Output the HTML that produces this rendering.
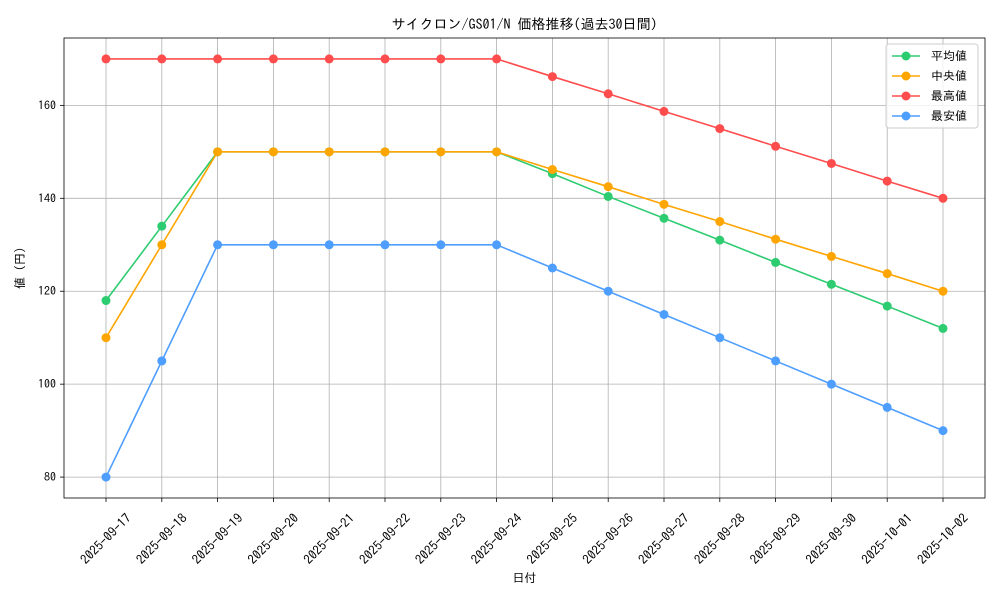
<!DOCTYPE html>
<html><head><meta charset="utf-8"><style>
body{margin:0;background:#fff}
svg text{font-family:"IPAGothic","Liberation Sans","Noto Sans CJK JP",sans-serif;fill:#000}
</style></head><body>
<svg id="chart" width="1000" height="600" xmlns="http://www.w3.org/2000/svg"></svg>
<script>
const categories=["2025-09-17","2025-09-18","2025-09-19","2025-09-20","2025-09-21","2025-09-22","2025-09-23","2025-09-24","2025-09-25","2025-09-26","2025-09-27","2025-09-28","2025-09-29","2025-09-30","2025-10-01","2025-10-02"];
const avgValues=[118,134,150,150,150,150,150,150,145.3,140.4,135.7,131,126.2,121.5,116.8,112];
const medValues=[110,130,150,150,150,150,150,150,146.2,142.5,138.7,135,131.2,127.5,123.8,120];
const maxValues=[170,170,170,170,170,170,170,170,166.2,162.5,158.7,155,151.2,147.5,143.7,140];
const minValues=[80,105,130,130,130,130,130,130,125,120,115,110,105,100,95,90];
const yTicks=[80,100,120,140,160];
const seriesNames=["平均値","中央値","最高値","最安値"];
const seriesColors=["#2ecc71","#ffa500","#ff4d4d","#4d9eff"];
const seriesData=[avgValues,medValues,maxValues,minValues];

const svg=document.getElementById('chart');
const NS="http://www.w3.org/2000/svg";
const L=64,R=985,T=38,B=498;
const yMin=75.5,yMax=174.5;
const x=i=>106+(943-106)*i/(categories.length-1);
const y=v=>B-(v-yMin)/(yMax-yMin)*(B-T);
function mk(t,a,p){const e=document.createElementNS(NS,t);for(const k in a)e.setAttribute(k,a[k]);(p||svg).appendChild(e);return e;}

categories.forEach((c,i)=>{
  const g=mk('line',{x1:x(i),x2:x(i),y1:T,y2:B,stroke:'#b0b0b0','stroke-width':0.8});
  
  
  mk('line',{x1:x(i),x2:x(i),y1:B,y2:B+4,stroke:'#000','stroke-width':0.8});
  const ax=x(i)+26, ay=B+21;
  const t=mk('text',{x:ax,y:ay,'font-size':13,'text-anchor':'end',transform:`rotate(-45 ${ax} ${ay})`});
  t.textContent=c;
  
  
});
yTicks.forEach(v=>{
  const g=mk('line',{x1:L,x2:R,y1:y(v),y2:y(v),stroke:'#b0b0b0','stroke-width':0.8});
  
  
  mk('line',{x1:L-4,x2:L,y1:y(v),y2:y(v),stroke:'#000','stroke-width':0.8});
  const t=mk('text',{x:L-8,y:y(v)+4,'font-size':12,'text-anchor':'end'});
  t.textContent=v;
  
  
});
seriesData.forEach((d,s)=>{
  const g=mk('g',{});
  
  
  mk('polyline',{points:d.map((v,i)=>x(i)+','+y(v)).join(' '),fill:'none',stroke:seriesColors[s],'stroke-width':1.6},g);
  d.forEach((v,i)=>{
    const c=mk('circle',{cx:x(i),cy:y(v),r:4.5,fill:seriesColors[s]},g);
    
    
  });
});
const fr=mk('rect',{x:L,y:T,width:R-L,height:B-T,fill:'none',stroke:'#000','stroke-width':0.8});


const ti=mk('text',{x:(L+R)/2,y:29,'font-size':14,'text-anchor':'middle'});ti.textContent='サイクロン/GS01/N 価格推移(過去30日間)';


const xl=mk('text',{x:(L+R)/2,y:582,'font-size':12,'text-anchor':'middle'});xl.textContent='日付';


const yl=mk('text',{x:24,y:268,'font-size':12,'text-anchor':'middle',transform:'rotate(-90 24 268)'});yl.textContent='値 (円)';


const lg=mk('g',{});


mk('rect',{x:886,y:44,width:92,height:84,rx:3,fill:'#fff','fill-opacity':0.8,stroke:'#ccc'},lg);
seriesNames.forEach((n,s)=>{
  const ey=56+s*20;
  const e=mk('g',{},lg);
  
  
  mk('line',{x1:892,x2:920,y1:ey,y2:ey,stroke:seriesColors[s],'stroke-width':1.6},e);
  mk('circle',{cx:906,cy:ey,r:4.5,fill:seriesColors[s]},e);
  const t=mk('text',{x:931,y:ey+4,'font-size':12},e);t.textContent=n;
});
</script>
</body></html>
